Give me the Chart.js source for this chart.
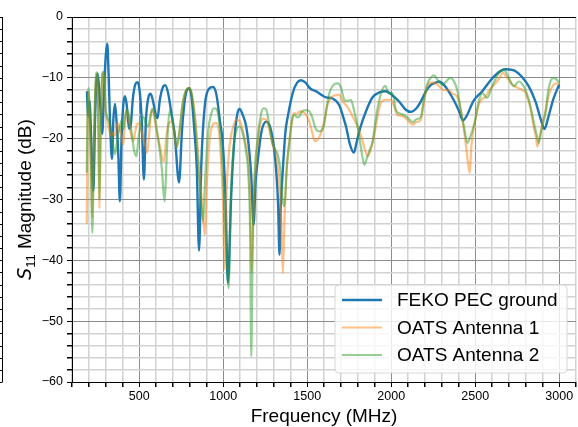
<!DOCTYPE html>
<html>
<head>
<meta charset="utf-8">
<script src="https://cdn.jsdelivr.net/npm/chart.js@4.4.0/dist/chart.umd.min.js"></script>
<style>
  html, body { margin: 0; padding: 0; background: #fff; }
  #wrap { width: 578px; height: 427px; position: relative; }
</style>
</head>
<body>
<div id="wrap"><canvas id="s11Chart" width="578" height="427"></canvas></div>
<script>
// [frequency MHz, S11 dB]
const fekoPts = [
  [189,-12.2],[196,-16.4],[204,-13.8],[215,-20.5],[227,-28.6],[237,-17],[244,-11.5],[251,-9.3],[258,-10.5],
  [268,-14.5],[280,-19.2],[290,-12.5],[300,-6.8],[310,-4.4],[318,-9.5],[328,-18.5],[338,-23.3],[346,-17],
  [356,-14.3],[366,-17.5],[376,-23],[385,-30.3],[395,-20],[405,-14.5],[415,-13.0],[425,-14.3],[440,-18.4],
  [451,-17.5],[462,-13.5],[478,-11],[490,-10.7],[502,-12],[515,-17],[528,-26.7],[540,-17],[555,-13.2],
  [568,-12.6],[582,-13.8],[598,-16],[609,-16.6],[623,-13.6],[640,-11.6],[655,-11.2],[672,-12.5],[690,-15.5],
  [712,-19.5],[737,-27.2],[755,-18.5],[775,-13],[797,-11.7],[812,-13.2],[828,-18.5],[843,-25],[856,-38.4],
  [870,-24],[890,-14.7],[915,-11.8],[940,-11.5],[960,-12.8],[980,-17],[998,-21],[1014,-30],[1028,-43.7],
  [1048,-29],[1068,-19.6],[1085,-15.8],[1098,-15.1],[1115,-16],[1137,-18.0],[1155,-22],[1167,-26.2],
  [1181,-34.1],[1193,-27],[1206,-23.5],[1226,-19.1],[1256,-17.2],[1272,-17.6],[1286,-18.8],[1300,-21],
  [1315,-25.1],[1327,-31],[1335,-39.1],[1343,-31],[1355,-25.1],[1370,-19],[1385,-16.3],[1414,-12.5],
  [1440,-10.8],[1464,-10.4],[1490,-10.8],[1520,-11.8],[1553,-12.2],[1585,-12.8],[1612,-13.2],[1651,-13.4],
  [1691,-14.5],[1715,-16.5],[1731,-18],[1755,-21],[1778,-22.3],[1795,-20.5],[1815,-18.3],[1850,-15.5],
  [1889,-13.2],[1930,-12.4],[1968,-12.2],[2008,-12.9],[2047,-13.9],[2085,-15.2],[2117,-15.6],[2150,-15],
  [2176,-13.9],[2205,-12.3],[2235,-11.2],[2265,-10.8],[2285,-10.6],[2315,-11.2],[2344,-12.3],[2375,-13.8],
  [2403,-15.4],[2427,-17.0],[2450,-16.2],[2490,-13.8],[2542,-12.2],[2580,-10.8],[2611,-9.8],[2650,-8.9],
  [2680,-8.6],[2720,-8.7],[2745,-9.0],[2780,-9.9],[2819,-11.4],[2860,-14],[2890,-16.8],[2912,-18.4],
  [2935,-16.5],[2965,-13.5],[3000,-11.1]
];

const oats1Pts = [
  [188,-34],[192,-20],[196,-12.3],[201,-13.5],[207,-18],[214,-26],[221,-33],[229,-22],[238,-13],[247,-9.5],
  [252,-10.5],[257,-20],[263,-31.5],[270,-20],[278,-11],[286,-9.1],[293,-11],[300,-15.5],[310,-16.8],
  [320,-18.5],[336,-19.6],[345,-19],[356,-19.5],[370,-17.5],[385,-18.5],[395,-19.5],[405,-21],[415,-17.5],
  [425,-15.3],[440,-17],[452,-19.5],[464,-20.4],[475,-19],[490,-17.5],[505,-17.8],[520,-19.5],[535,-21],
  [547,-22.3],[560,-19],[570,-16],[579,-15.1],[590,-16.5],[605,-19],[625,-21.5],[640,-23.5],[648,-23.7],
  [660,-20],[675,-17.6],[692,-17.2],[705,-18.5],[722,-21.5],[740,-19],[755,-15],[770,-12.8],[785,-11.8],
  [800,-11.7],[815,-13],[835,-17],[855,-24],[875,-31],[890,-35.8],[905,-26],[920,-20],[940,-17.6],
  [959,-17.4],[975,-19],[990,-25],[1000,-32],[1008,-41.5],[1018,-30],[1035,-22],[1060,-18],[1080,-16.9],
  [1098,-17.1],[1115,-18.5],[1135,-21],[1150,-24],[1160,-30],[1170,-42],[1180,-32],[1195,-24],[1215,-18.5],
  [1235,-16.7],[1256,-16.9],[1275,-18.5],[1295,-21],[1315,-22.5],[1330,-26],[1345,-33],[1355,-42.1],
  [1365,-33],[1380,-24],[1394,-20.5],[1410,-16.8],[1424,-15.8],[1440,-16],[1454,-15.5],[1475,-15.6],
  [1493,-16.1],[1510,-17],[1530,-19],[1545,-20.4],[1562,-20.2],[1580,-19.2],[1602,-17],[1620,-14.5],
  [1640,-13.3],[1660,-12.9],[1691,-12.8],[1710,-13.8],[1731,-14.5],[1755,-15.5],[1780,-16.9],[1800,-18],
  [1820,-19.5],[1840,-21.5],[1860,-22.9],[1875,-22],[1889,-20.7],[1905,-18.5],[1919,-16.3],[1940,-14],
  [1968,-13.6],[1998,-13.6],[2015,-14.5],[2037,-16.1],[2067,-16.3],[2096,-16.9],[2126,-17.7],[2150,-17.3],
  [2176,-16.9],[2195,-14],[2215,-11.4],[2240,-10.8],[2265,-10.9],[2290,-11.5],[2314,-12.0],[2340,-12.0],
  [2364,-12.6],[2384,-12.8],[2405,-14],[2425,-17],[2440,-20],[2455,-23.5],[2467,-25.6],[2478,-21],
  [2490,-18.5],[2502,-16.9],[2520,-14.5],[2540,-13.5],[2560,-13.2],[2581,-12.2],[2600,-11.5],[2621,-10.9],
  [2645,-10],[2665,-9.2],[2690,-10],[2720,-11.1],[2750,-11.6],[2779,-12.0],[2800,-12.5],[2829,-15],
  [2848,-18],[2862,-19.8],[2870,-21.3],[2885,-19.5],[2900,-17.5],[2918,-15.5],[2940,-12.6],[2965,-11.2],
  [2987,-10.9],[3000,-11.0]
];

const oats2Pts = [
  [188,-25.6],[192,-16],[196,-11.7],[200,-12.2],[205,-15],[212,-22],[221,-35.5],[230,-22],[238,-12],
  [248,-9.1],[253,-10.5],[258,-18],[263,-30],[270,-19],[278,-10.5],[286,-9.0],[293,-10.5],[300,-15],
  [310,-16.5],[325,-17.5],[340,-20],[356,-22.6],[370,-20],[385,-18.0],[395,-17],[405,-18.5],[415,-16.5],
  [425,-15.2],[440,-16.3],[455,-19],[470,-22],[484,-22.9],[495,-20],[510,-17.5],[524,-16.4],[540,-17.5],
  [555,-18],[565,-16.5],[579,-15.1],[590,-16],[605,-18.5],[620,-21.5],[635,-25],[645,-29],[652,-30.3],
  [662,-24],[672,-18],[682,-15.4],[695,-16.5],[710,-19],[722,-21.5],[740,-18.5],[760,-14],[780,-12],
  [800,-11.7],[815,-13],[835,-18],[855,-26],[870,-31],[880,-33.6],[892,-27],[910,-19],[930,-15.8],
  [945,-15],[959,-15.1],[975,-17],[995,-24],[1010,-33],[1022,-40],[1032,-44.6],[1045,-30],[1060,-22],
  [1080,-18.5],[1098,-18.0],[1115,-19],[1135,-22],[1150,-26],[1160,-35],[1167,-55.8],[1175,-38],
  [1185,-27],[1205,-20],[1225,-16],[1240,-15],[1256,-15.2],[1270,-17],[1290,-20.5],[1305,-21.5],
  [1315,-22.1],[1325,-22.6],[1340,-25],[1353,-30],[1365,-31.1],[1378,-25],[1394,-20.5],[1410,-17],
  [1424,-16.1],[1440,-16.5],[1454,-16.3],[1470,-15.5],[1490,-15.3],[1513,-15.5],[1530,-16.5],[1553,-18.5],
  [1575,-18.8],[1600,-17.8],[1615,-15],[1632,-12.5],[1655,-11.2],[1681,-10.9],[1700,-11.5],[1721,-13.6],
  [1740,-13.8],[1760,-13.6],[1780,-15.5],[1800,-18.0],[1820,-21.5],[1840,-24.3],[1855,-23.2],[1870,-22],
  [1889,-20.5],[1905,-17.5],[1919,-15],[1940,-12.5],[1964,-11.3],[1985,-12.5],[2008,-12.5],[2027,-15.2],
  [2045,-15.8],[2067,-16.0],[2096,-16.5],[2130,-17.3],[2150,-16.8],[2176,-16.5],[2195,-13.5],[2215,-11],
  [2235,-10],[2255,-9.6],[2280,-10.5],[2305,-11.2],[2330,-10.5],[2354,-10.0],[2372,-10.5],[2393,-12.0],
  [2415,-15.5],[2433,-18.0],[2453,-20.7],[2473,-19.5],[2490,-18],[2502,-16.6],[2520,-14],[2542,-12.5],
  [2571,-13.3],[2601,-11.4],[2641,-9.2],[2670,-8.6],[2700,-10.0],[2730,-11.4],[2759,-10.6],[2789,-11.4],
  [2810,-12.8],[2829,-14.7],[2850,-17.5],[2868,-19.6],[2878,-20.7],[2895,-18.5],[2918,-15.8],[2937,-11.7],
  [2967,-10.0],[2985,-10.3],[3000,-10.8]
];

const seriesNames = ['FEKO PEC ground', 'OATS Antenna 1', 'OATS Antenna 2'];
const xTickLabels = [500, 1000, 1500, 2000, 2500, 3000];
const yTickLabels = [0, -10, -20, -30, -40, -50, -60];

const FONT = '"Liberation Sans", Arial, Helvetica, sans-serif';

function toXY(pts) { return pts.map(p => ({ x: p[0], y: p[1] })); }

const overlayPlugin = {
  id: 'overlay',
  afterDraw(chart) {
    const ctx = chart.ctx;
    const area = chart.chartArea;
    ctx.save();

    // cut-off neighbour axis at the far left
    ctx.strokeStyle = '#000';
    ctx.lineWidth = 1;
    ctx.beginPath();
    ctx.moveTo(2.5, area.top);
    ctx.lineTo(2.5, area.bottom);
    for (let y = area.top; y <= area.bottom + 0.5; y += (area.bottom - area.top) / 30) {
      ctx.moveTo(0, Math.round(y) + 0.5);
      ctx.lineTo(2.5, Math.round(y) + 0.5);
    }
    ctx.stroke();

    // top spine
    ctx.beginPath();
    ctx.moveTo(area.left, area.top + 0.5);
    ctx.lineTo(area.right, area.top + 0.5);
    ctx.stroke();

    // x axis title
    ctx.fillStyle = '#000';
    ctx.font = '19px ' + FONT;
    ctx.textAlign = 'center';
    ctx.textBaseline = 'alphabetic';
    ctx.fillText('Frequency (MHz)', (area.left + area.right) / 2, 422);

    // y axis title with subscript
    ctx.translate(31, (area.top + area.bottom) / 2);
    ctx.rotate(-Math.PI / 2);
    ctx.textAlign = 'left';
    const fMain = '19px ' + FONT;
    const fItal = 'italic 19px "DejaVu Sans", ' + FONT;
    const fSub = '13px ' + FONT;
    ctx.font = fItal; const wS = ctx.measureText('S').width;
    ctx.font = fSub; const wSub = ctx.measureText('11').width;
    ctx.font = fMain; const wRest = ctx.measureText(' Magnitude (dB)').width;
    let x0 = -(wS + wSub + wRest) / 2;
    ctx.font = fItal; ctx.fillText('S', x0, 0); x0 += wS;
    ctx.font = fSub; ctx.fillText('11', x0, 4); x0 += wSub;
    ctx.font = fMain; ctx.fillText(' Magnitude (dB)', x0, 0);
    ctx.restore();

    // legend box
    ctx.save();
    const bx = 335, by = 285, bw = 232, bh = 88, r = 4;
    ctx.beginPath();
    ctx.moveTo(bx + r, by);
    ctx.arcTo(bx + bw, by, bx + bw, by + bh, r);
    ctx.arcTo(bx + bw, by + bh, bx, by + bh, r);
    ctx.arcTo(bx, by + bh, bx, by, r);
    ctx.arcTo(bx, by, bx + bw, by, r);
    ctx.closePath();
    ctx.fillStyle = 'rgba(255,255,255,0.8)';
    ctx.fill();
    ctx.strokeStyle = '#d6d6d6';
    ctx.lineWidth = 1;
    ctx.stroke();
    ctx.font = '19px ' + FONT;
    ctx.textBaseline = 'middle';
    ctx.textAlign = 'left';
    const rows = [300, 327.5, 355];
    chart.data.datasets.forEach((ds, i) => {
      ctx.strokeStyle = ds.borderColor;
      ctx.lineWidth = ds.borderWidth;
      ctx.beginPath();
      ctx.moveTo(342, rows[i]);
      ctx.lineTo(382, rows[i]);
      ctx.stroke();
      ctx.fillStyle = '#000';
      ctx.fillText(ds.label, 397, rows[i] + 1);
    });
    ctx.restore();
  }
};

new Chart(document.getElementById('s11Chart'), {
  type: 'line',
  data: {
    datasets: [
      { label: seriesNames[0], data: toXY(fekoPts), borderColor: '#1f77b4', borderWidth: 2.4, order: 3 },
      { label: seriesNames[1], data: toXY(oats1Pts), borderColor: 'rgba(255,127,14,0.5)', borderWidth: 2.2, order: 2 },
      { label: seriesNames[2], data: toXY(oats2Pts), borderColor: 'rgba(44,160,44,0.5)', borderWidth: 2.2, order: 1 }
    ]
  },
  options: {
    responsive: false,
    animation: false,
    layout: { padding: { top: 17, right: 1, left: 0, bottom: 0 } },
    elements: {
      point: { radius: 0 },
      line: { cubicInterpolationMode: 'monotone', fill: false }
    },
    plugins: { legend: { display: false }, tooltip: { enabled: false } },
    scales: {
      x: {
        type: 'linear',
        min: 100,
        max: 3100,
        afterFit(scale) { scale.height = 45; },
        ticks: {
          stepSize: 100,
          autoSkip: false,
          maxRotation: 0,
          padding: 2,
          color: '#000',
          font: { family: FONT, size: 12.5 },
          callback: v => xTickLabels.includes(v) ? String(v) : ''
        },
        grid: {
          color: c => c.tick.value % 500 === 0 ? '#8c8c8c' : '#d2d2d2',
          lineWidth: c => c.tick.value % 500 === 0 ? 1 : 1.5,
          tickColor: '#000',
          tickLength: 5
        },
        border: { color: '#000', width: 1 }
      },
      y: {
        min: -60,
        max: 0,
        afterFit(scale) { scale.width = 72; },
        ticks: {
          stepSize: 2,
          autoSkip: false,
          padding: 4,
          color: '#000',
          font: { family: FONT, size: 12.5 },
          callback: v => yTickLabels.includes(v) ? String(v).replace('-', '\u2212') : ''
        },
        grid: {
          color: c => c.tick.value === 0 ? '#000' : (c.tick.value % 10 === 0 ? '#8c8c8c' : '#d2d2d2'),
          lineWidth: c => c.tick.value % 10 === 0 ? 1 : 1.5,
          tickColor: '#000',
          tickLength: 5
        },
        border: { color: '#000', width: 1 }
      }
    }
  },
  plugins: [overlayPlugin]
});
</script>
</body>
</html>
